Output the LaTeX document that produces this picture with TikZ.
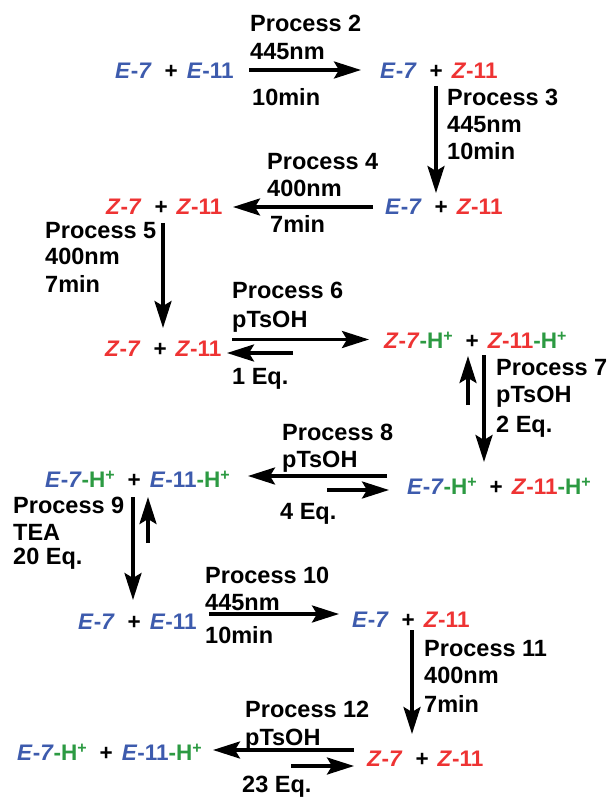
\documentclass[tikz,border=0pt]{standalone}
\usepackage{fontspec}
\setmainfont{Liberation Sans}
\usetikzlibrary{arrows.meta}
\definecolor{eb}{HTML}{3D5BAD}
\definecolor{zr}{HTML}{EE3333}
\definecolor{hg}{HTML}{2C9A42}
\newcommand{\sE}[1]{\textcolor{eb}{\textit{E}-#1}}
\newcommand{\sZ}[1]{\textcolor{zr}{\textit{Z}-#1}}
\newcommand{\Hp}{\textcolor{hg}{-H\raisebox{7pt}{\fontsize{16}{16}\selectfont +}}}
\newcommand{\pl}{\hspace{13pt}+\hspace{9pt}}
\newcommand{\sev}{\textit{7}}
\begin{document}
\begin{tikzpicture}[x=1pt,y=-1pt,
  sp/.style={anchor=base west, inner sep=0pt, font=\fontsize{22.5}{27}\selectfont\bfseries},
  lbl/.style={anchor=base west, inner sep=0pt, font=\fontsize{23.5}{27}\selectfont\bfseries},
  rx/.style={line width=3.5pt, -{Stealth[length=27pt,width=17pt,inset=5pt]}}]
\useasboundingbox (0,0) rectangle (609,799);
% species rows
\node[sp] (r1l) at (115,79) {\sE{\sev}\pl\sE{11}};
\node[sp] (r1r) at (380,79) {\sE{\sev}\pl\sZ{11}};
\node[sp] (r2l) at (106,215) {\sZ{\sev}\pl\sZ{11}};
\node[sp] (r2r) at (385,215) {\sE{\sev}\pl\sZ{11}};
\node[sp] (r3l) at (105,356) {\sZ{\sev}\pl\sZ{11}};
\node[sp] (r3r) at (384,348) {\sZ{\sev}\Hp\pl\sZ{11}\Hp};
\node[sp] (r4l) at (45,487) {\sE{\sev}\Hp\pl\sE{11}\Hp};
\node[sp] (r4r) at (407,494) {\sE{\sev}\Hp\pl\sZ{11}\Hp};
\node[sp] (r5l) at (78,629) {\sE{\sev}\pl\sE{11}};
\node[sp] (r5r) at (352,627) {\sE{\sev}\pl\sZ{11}};
\node[sp] (r6l) at (17,760) {\sE{\sev}\Hp\pl\sE{11}\Hp};
\node[sp] (r6r) at (367,766) {\sZ{\sev}\pl\sZ{11}};
% arrow end points
\coordinate (a2s) at (249,70);  \coordinate (a2e) at (361,70);
\coordinate (a3s) at (436,86);  \coordinate (a3e) at (436,193);
\coordinate (a4s) at (373,207); \coordinate (a4e) at (233,207);
\coordinate (a5s) at (163,223); \coordinate (a5e) at (163,328);
\coordinate (a6s) at (232,339.5); \coordinate (a6e) at (369,339.5);
\coordinate (b6s) at (293,353); \coordinate (b6e) at (227,353);
\coordinate (a7s) at (484,355); \coordinate (a7e) at (484,462);
\coordinate (b7s) at (468,405); \coordinate (b7e) at (468,356);
\coordinate (a8s) at (387,476); \coordinate (a8e) at (248,476);
\coordinate (b8s) at (327,490); \coordinate (b8e) at (389,490);
\coordinate (a9s) at (133,497); \coordinate (a9e) at (133,600);
\coordinate (b9s) at (148,543); \coordinate (b9e) at (148,497);
\coordinate (a10s) at (209,614); \coordinate (a10e) at (339,614);
\coordinate (a11s) at (412,630); \coordinate (a11e) at (412,734);
\coordinate (a12s) at (354,750); \coordinate (a12e) at (213,750);
\coordinate (b12s) at (291,766); \coordinate (b12e) at (354,766);
\foreach \p in {a2,a3,a4,a5,a6,b6,a7,b7,a8,b8,a9,b9,a10,a11,a12,b12}
  \draw[rx] (\p s) -- (\p e);
% labels
\node[lbl] (p2a) at (250,32) {Process 2};
\node[lbl] (p2b) at (250,60) {445nm};
\node[lbl] (p2c) at (252,106) {10min};
\node[lbl] (p3a) at (447,106) {Process 3};
\node[lbl] (p3b) at (447,133) {445nm};
\node[lbl] (p3c) at (447,160) {10min};
\node[lbl] (p4a) at (267,170) {Process 4};
\node[lbl] (p4b) at (267,197) {400nm};
\node[lbl] (p4c) at (270,233) {7min};
\node[lbl] (p5a) at (45,239) {Process 5};
\node[lbl] (p5b) at (45,265) {400nm};
\node[lbl] (p5c) at (45,292) {7min};
\node[lbl] (p6a) at (232,298) {Process 6};
\node[lbl] (p6b) at (232,327) {pTsOH};
\node[lbl] (p6c) at (232,384) {1 Eq.};
\node[lbl] (p7a) at (496,375) {Process 7};
\node[lbl] (p7b) at (496,402) {pTsOH};
\node[lbl] (p7c) at (496,432) {2 Eq.};
\node[lbl] (p8a) at (282,440) {Process 8};
\node[lbl] (p8b) at (282,467) {pTsOH};
\node[lbl] (p8c) at (280,519) {4 Eq.};
\node[lbl] (p9a) at (13,513) {Process 9};
\node[lbl] (p9b) at (13,540) {TEA};
\node[lbl] (p9c) at (13,564) {20 Eq.};
\node[lbl] (p10a) at (205,583) {Process 10};
\node[lbl] (p10b) at (205,610) {445nm};
\node[lbl] (p10c) at (205,643) {10min};
\node[lbl] (p11a) at (424,656) {Process 11};
\node[lbl] (p11b) at (424,683) {400nm};
\node[lbl] (p11c) at (424,712) {7min};
\node[lbl] (p12a) at (245,717) {Process 12};
\node[lbl] (p12b) at (245,745) {pTsOH};
\node[lbl] (p12c) at (242,792) {23 Eq.};
\end{tikzpicture}
\end{document}
